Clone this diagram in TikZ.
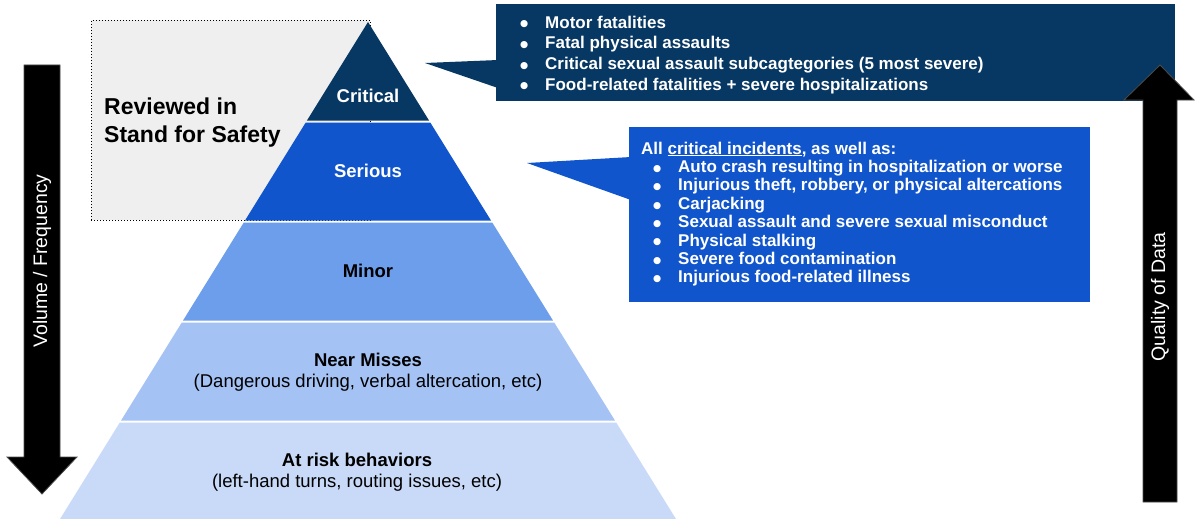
\documentclass[tikz,border=0pt]{standalone}
\usepackage{fontspec}
\setmainfont{Liberation Sans}
\newfontfamily\dotfont[Scale=0.55]{DejaVu Sans}
\usepackage{tikz}
\usetikzlibrary{positioning,calc}
\definecolor{criticalcolor}{HTML}{073763}
\definecolor{seriouscolor}{HTML}{1155CC}
\definecolor{minorcolor}{HTML}{6D9EEB}
\definecolor{nearcolor}{HTML}{A4C2F4}
\definecolor{riskcolor}{HTML}{C9DAF8}
\definecolor{reviewgray}{HTML}{EFEFEF}
\newcommand{\itemdot}[1]{\makebox[#1][l]{\raisebox{1.2pt}{\dotfont ●}}}

\begin{document}
\begin{tikzpicture}[x=1pt, y=-1pt,
        layerlabel/.style={align=center, inner sep=0pt, font=\fontsize{18.5}{21}\selectfont},
        calloutbox/.style={anchor=north west, minimum width=#1, inner sep=0pt},
        callouttext/.style={anchor=north west, align=left, inner sep=0pt, text=white, font=\bfseries\fontsize{17}{#1}\selectfont},
        bigarrow/.style={fill=black, draw=black!70, line width=0.8pt}]
    \useasboundingbox (0,0) rectangle (1196,519);

    % region reviewed in stand for safety
    \node[draw, line width=0.8pt, dash pattern=on 0.8pt off 2.2pt, fill=reviewgray, anchor=north west,
          minimum width=279pt, minimum height=200pt, inner sep=0pt] (review) at (91,20) {};
    \node[anchor=west, align=left, inner sep=0pt, font=\bfseries\fontsize{23}{28}\selectfont] (reviewtext) at (104,123)
        {Reviewed in\\Stand for Safety};

    % pyramid
    \foreach \ytop/\ybot/\col in {22/120.5/criticalcolor, 122.5/220.5/seriouscolor, 222.5/320.5/minorcolor,
                                  322.5/420.5/nearcolor, 422.5/519/riskcolor}
        \fill[\col] ({368-0.6197*(\ytop-22)},\ytop) -- ({368+0.6197*(\ytop-22)},\ytop)
                 -- ({368+0.6197*(\ybot-22)},\ybot) -- ({368-0.6197*(\ybot-22)},\ybot) -- cycle;

    \node[layerlabel, text=white, font=\bfseries\fontsize{18.5}{21}\selectfont] (critical) at (368,96) {Critical};
    \node[layerlabel, text=white, font=\bfseries\fontsize{18.5}{21}\selectfont] (serious) at (368,171) {Serious};
    \node[layerlabel, font=\bfseries\fontsize{18.5}{21}\selectfont] (minor) at (368,271) {Minor};
    \node[layerlabel] (near) at (368,372) {\textbf{Near Misses}\\(Dangerous driving, verbal altercation, etc)};
    \node[layerlabel] (risk) at (357,472) {\textbf{At risk behaviors}\\(left-hand turns, routing issues, etc)};

    % callout for critical
    \node[calloutbox=679pt, minimum height=97pt, fill=criticalcolor] (critbox) at (496,4) {};
    \coordinate (crittip) at (425,63);
    \fill[criticalcolor] (crittip) -- ($(critbox.north west)+(2,56)$) -- ($(critbox.north west)+(2,84)$) -- cycle;
    \node[callouttext=20.7] (critlist) at ($(critbox.north west)+(24,11.5)$) {%
        \itemdot{25pt}Motor fatalities\\
        \itemdot{25pt}Fatal physical assaults\\
        \itemdot{25pt}Critical sexual assault subcagtegories (5 most severe)\\
        \itemdot{25pt}Food-related fatalities + severe hospitalizations};

    % callout for serious
    \node[calloutbox=461pt, minimum height=175pt, fill=seriouscolor] (seriousbox) at (629,127) {};
    \coordinate (serioustip) at (527,163);
    \fill[seriouscolor] (serioustip) -- ($(seriousbox.north west)+(2,30)$) -- ($(seriousbox.north west)+(2,73)$) -- cycle;
    \node[callouttext=18.4] (seriouslist) at ($(seriousbox.north west)+(12,14.5)$) {%
        All \underline{critical incidents}, as well as:\\
        \hspace*{12pt}\itemdot{25pt}Auto crash resulting in hospitalization or worse\\
        \hspace*{12pt}\itemdot{25pt}Injurious theft, robbery, or physical altercations\\
        \hspace*{12pt}\itemdot{25pt}Carjacking\\
        \hspace*{12pt}\itemdot{25pt}Sexual assault and severe sexual misconduct\\
        \hspace*{12pt}\itemdot{25pt}Physical stalking\\
        \hspace*{12pt}\itemdot{25pt}Severe food contamination\\
        \hspace*{12pt}\itemdot{25pt}Injurious food-related illness};

    % side arrows
    \draw[bigarrow] (24,65) -- (60,65) -- (60,457) -- (77,457) -- (42,494) -- (7,457) -- (24,457) -- cycle;
    \node[rotate=90, text=white, inner sep=0pt, font=\fontsize{19.5}{20}\selectfont] (volume) at (42,261) {Volume / Frequency};
    \draw[bigarrow] (1143,502) -- (1143,100) -- (1124,100) -- (1160,65) -- (1194,100) -- (1177,100) -- (1177,502) -- cycle;
    \node[rotate=90, text=white, inner sep=0pt, font=\fontsize{19.5}{20}\selectfont] (quality) at (1160,297) {Quality of Data};
\end{tikzpicture}
\end{document}
